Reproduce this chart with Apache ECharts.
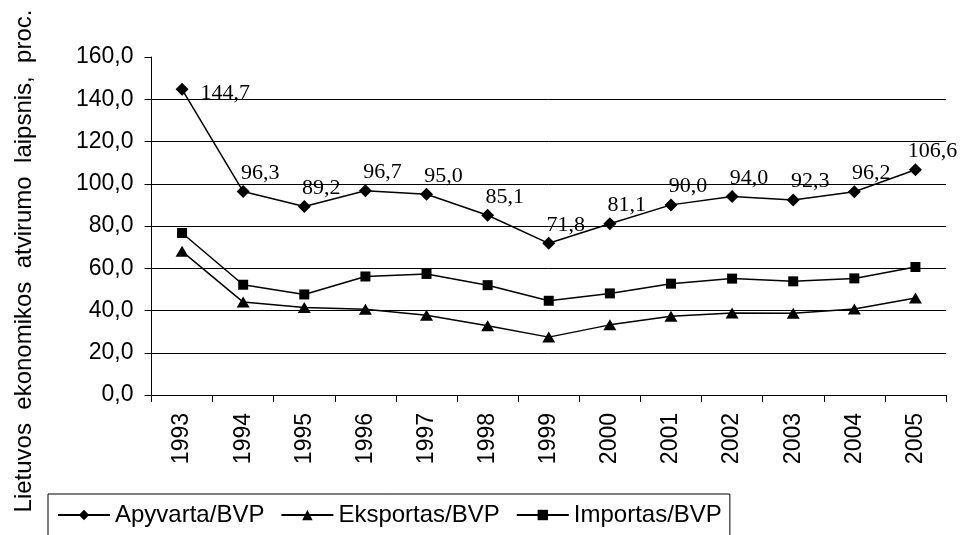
<!DOCTYPE html>
<html>
<head>
<meta charset="utf-8">
<script src="https://cdn.jsdelivr.net/npm/echarts@6/dist/echarts.min.js"></script>
<style>
  html, body { margin: 0; padding: 0; background: #fff; }
  #chart { width: 966px; height: 535px; }
</style>
</head>
<body>
<div id="chart"></div>
<script>
  // duomenys
  const years = ['1993', '1994', '1995', '1996', '1997', '1998', '1999', '2000', '2001', '2002', '2003', '2004', '2005'];
  const apyvarta = [144.7, 96.3, 89.2, 96.7, 95.0, 85.1, 71.8, 81.1, 90.0, 94.0, 92.3, 96.2, 106.6];
  const eksportas = [68.0, 44.0, 41.4, 40.6, 37.7, 32.8, 27.4, 33.2, 37.3, 38.8, 38.7, 40.7, 45.9];
  const importas = [76.7, 52.2, 47.6, 56.1, 57.3, 52.0, 44.6, 48.1, 52.7, 55.1, 53.8, 55.2, 60.6];
  const seriesNames = ['Apyvarta/BVP', 'Eksportas/BVP', 'Importas/BVP'];
  const yTitle = 'Lietuvos  ekonomikos  atvirumo  laipsnis,  proc.';

  const sans = 'Liberation Sans, Arial, sans-serif';
  const serif = 'Liberation Serif, Times New Roman, serif';
  const fmt = v => v.toFixed(1).replace('.', ',');

  const chart = echarts.init(document.getElementById('chart'));

  const lineBase = {
    type: 'line',
    symbolKeepAspect: true,
    lineStyle: { color: '#000', width: 1.5 },
    itemStyle: { color: '#000' },
    emphasis: { disabled: true },
    animation: false
  };

  const option = {
    animation: false,
    grid: { left: 151.5, right: 20, top: 57, bottom: 140, containLabel: false },
    legend: {
      data: seriesNames,
      left: 48,
      top: 494,
      padding: [9, 8, 12, 9],
      itemGap: 16,
      itemWidth: 52,
      itemHeight: 13,
      borderColor: '#000',
      borderWidth: 1,
      textStyle: { fontFamily: sans, fontSize: 24, color: '#000' }
    },
    xAxis: {
      type: 'category',
      data: years,
      boundaryGap: true,
      axisLine: { lineStyle: { color: '#000', width: 1 } },
      axisTick: { show: true, length: 7, lineStyle: { color: '#000' } },
      axisLabel: { rotate: 90, margin: 18, fontFamily: sans, fontSize: 23, color: '#000' }
    },
    yAxis: {
      type: 'value',
      min: 0,
      max: 160,
      interval: 20,
      axisLine: { show: true, lineStyle: { color: '#000', width: 1 } },
      axisTick: { show: true, length: 7, lineStyle: { color: '#000' } },
      axisLabel: { margin: 18, fontFamily: sans, fontSize: 23, color: '#000', formatter: fmt },
      splitLine: { show: true, showMaxLine: false, lineStyle: { color: '#000', width: 1 } }
    },
    graphic: [{
      type: 'text',
      x: 24,
      y: 261,
      rotation: Math.PI / 2,
      style: {
        text: yTitle,
        fontFamily: sans,
        fontSize: 24,
        fill: '#000',
        align: 'center',
        verticalAlign: 'middle'
      }
    }],
    series: [
      Object.assign({}, lineBase, {
        name: seriesNames[0],
        symbol: 'diamond',
        symbolSize: 13,
        data: apyvarta.map((v, i) => i === 0
          ? { value: v, label: { position: 'right', distance: 12, offset: [0, 4] } }
          : v),
        label: {
          show: true,
          position: 'top',
          distance: 5,
          offset: [17, 4],
          fontFamily: serif,
          fontSize: 22,
          color: '#000',
          formatter: p => fmt(p.value)
        }
      }),
      Object.assign({}, lineBase, {
        name: seriesNames[1],
        symbol: 'triangle',
        symbolSize: [13, 11],
        data: eksportas
      }),
      Object.assign({}, lineBase, {
        name: seriesNames[2],
        symbol: 'rect',
        symbolSize: 10,
        data: importas
      })
    ]
  };

  chart.setOption(option);
</script>
</body>
</html>
